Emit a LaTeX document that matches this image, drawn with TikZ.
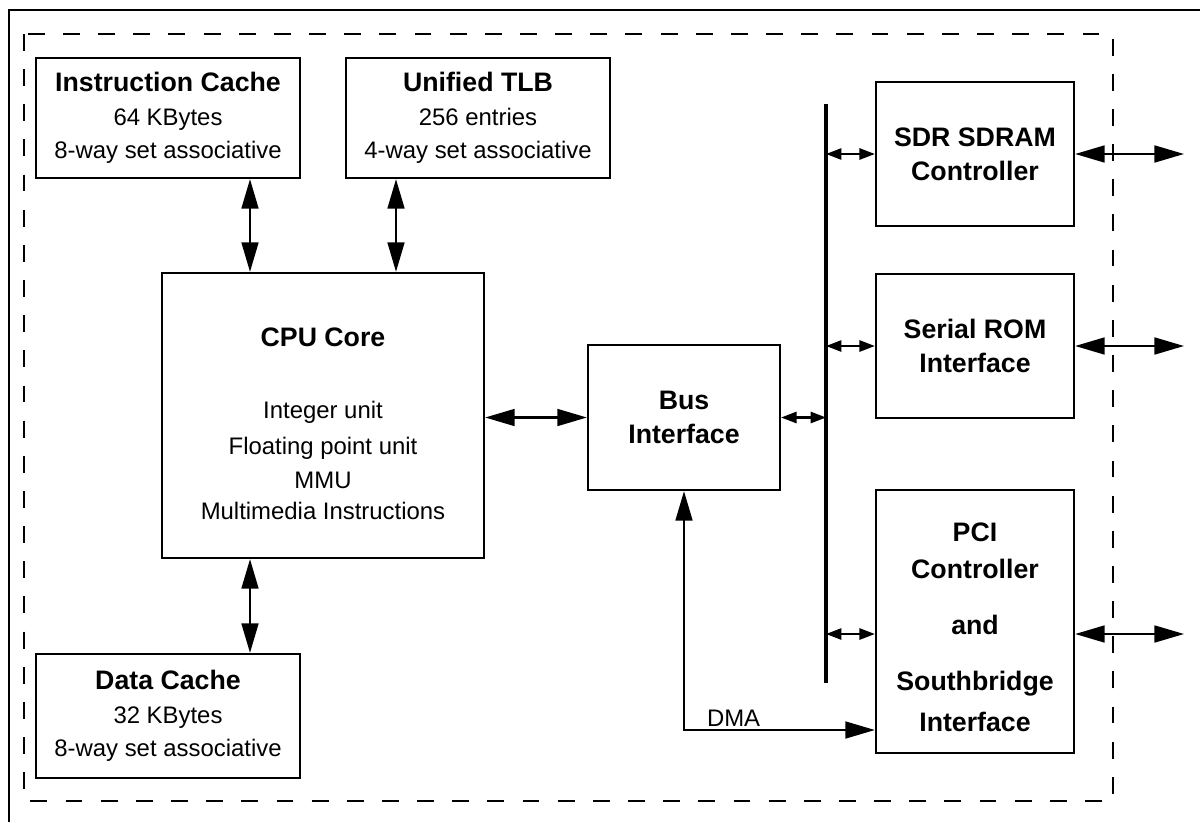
\documentclass[tikz,border=0pt]{standalone}
\usepackage{fontspec}
\setmainfont{Liberation Sans}
\usetikzlibrary{arrows.meta}

\newcommand{\blkhead}[1]{{\fontsize{19}{24}\selectfont\bfseries #1}}

\tikzset{
  blk/.style={draw, line width=1.6pt, align=center, inner sep=0pt},
  bblk/.style={blk, font=\fontsize{19}{24}\selectfont\bfseries},
  bigarrow/.style={<->, >={Triangle[length=21pt,width=12pt]}, line width=1.5pt},
  smallarrow/.style={<->, >={Triangle[length=11pt,width=8pt]}, line width=1.5pt},
}

\begin{document}
\begin{tikzpicture}[x=0.025cm, y=-0.025cm, font=\fontsize{17}{24}\selectfont]
  \useasboundingbox (0,0) rectangle (1200,822);
  % frame and chip outline
  \draw[line width=1.5pt] (9,822) -- (9,10) -- (1200,10);
  \draw[line width=1.5pt, dash pattern=on 12pt off 13pt] (24,34) rectangle (1113,801);

  % blocks
  \node[blk, minimum width=6.6cm, minimum height=3cm] (icache) at (168,118)
    {\blkhead{Instruction Cache}\\64 KBytes\\8-way set associative};
  \node[blk, minimum width=6.6cm, minimum height=3cm] (tlb) at (478,118)
    {\blkhead{Unified TLB}\\256 entries\\4-way set associative};
  \node[blk, minimum width=8.05cm, minimum height=7.125cm] (cpu) at (323,415.5)
    {\rule{0pt}{25pt}\blkhead{CPU Core}\\[27pt]Integer unit\\[2pt]Floating point unit\\MMU\\[-2pt]Multimedia Instructions};
  \node[blk, minimum width=6.6cm, minimum height=3.1cm] (dcache) at (168,716)
    {\blkhead{Data Cache}\\32 KBytes\\8-way set associative};
  \node[bblk, minimum width=4.8cm, minimum height=3.625cm] (bus) at (684,417.5) {Bus\\Interface};
  \node[bblk, minimum width=4.95cm, minimum height=3.6cm] (sdram) at (975,154) {SDR SDRAM\\Controller};
  \node[bblk, minimum width=4.95cm, minimum height=3.6cm] (srom) at (975,346) {Serial ROM\\Interface};
  \node[bblk, minimum width=4.95cm, minimum height=6.575cm] (pci) at (975,621.5)
    {\rule{0pt}{22pt}PCI\\[2pt]Controller\\[16pt]and\\[16pt]Southbridge\\[5pt]Interface};

  % connectors
  \coordinate (lcol) at (250,0);
  \coordinate (tcol) at (396,0);
  \coordinate (bar1) at (826,104);
  \coordinate (bar2) at (826,683);
  \coordinate (pcirow) at (0,634);
  \coordinate (dmarow) at (0,730);
  \coordinate (pins) at (1184,0);

  \draw[line width=2.2pt] (bar1) -- (bar2);
  \path[bigarrow]
    (icache.south -| lcol) edge (cpu.north -| lcol)
    (tlb.south -| tcol) edge (cpu.north -| tcol)
    (cpu.south -| lcol) edge (dcache.north -| lcol)
    (cpu.east |- bus.west) edge (bus.west)
    (sdram.east) edge (sdram.east -| pins)
    (srom.east) edge (srom.east -| pins)
    (pci.east |- pcirow) edge (pins |- pcirow);
  \path[smallarrow]
    (bus.east) edge (bus.east -| bar1)
    (sdram.west -| bar1) edge (sdram.west)
    (srom.west -| bar1) edge (srom.west)
    (pcirow -| bar1) edge (pci.west |- pcirow);
  \draw[bigarrow] (bus.south) |- node[pos=0.63, above, inner sep=2pt] {DMA} (pci.west |- dmarow);
\end{tikzpicture}
\end{document}
